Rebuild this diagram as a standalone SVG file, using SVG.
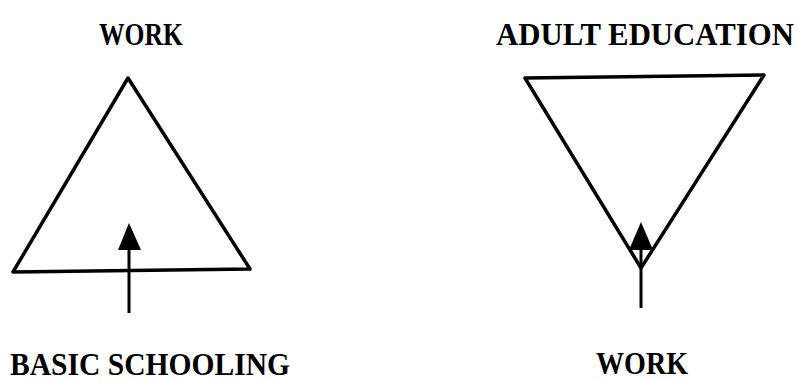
<svg xmlns="http://www.w3.org/2000/svg" width="801" height="382" viewBox="0 0 801 382">
<style>
.lbl{font-family:"Liberation Serif","Times New Roman",serif;font-weight:bold;font-size:31px;fill:#000}
.tri{fill:none;stroke:#000;stroke-width:3.5;stroke-linejoin:round}
.ln{stroke:#000;stroke-width:3}
.head{fill:#000}
</style>
<rect width="801" height="382" fill="#fff"/>
<g id="node-work-top">
<text class="lbl" x="141" y="45" text-anchor="middle" textLength="84" lengthAdjust="spacingAndGlyphs">WORK</text>
</g>
<g id="node-adult-education">
<text class="lbl" x="645" y="45" text-anchor="middle" textLength="298" lengthAdjust="spacingAndGlyphs">ADULT EDUCATION</text>
</g>
<g id="node-triangle-up">
<path class="tri" d="M128 78 L250 269 L13 272 Z"/>
</g>
<g id="node-triangle-down">
<path class="tri" d="M525 78 L764 75 L641 268 Z"/>
</g>
<g id="node-basic-schooling">
<text class="lbl" x="150" y="375" text-anchor="middle" textLength="280" lengthAdjust="spacingAndGlyphs">BASIC SCHOOLING</text>
</g>
<g id="node-work-bottom">
<text class="lbl" x="642" y="374" text-anchor="middle" textLength="92" lengthAdjust="spacingAndGlyphs">WORK</text>
</g>
<g id="connectors">
<line class="ln" x1="129" y1="313" x2="129" y2="245"/>
<polygon class="head" points="129,223 118,250 141,250"/>
<line class="ln" x1="641" y1="308" x2="641" y2="245"/>
<polygon class="head" points="641,222 629,250 653,250"/>
</g>
</svg>
